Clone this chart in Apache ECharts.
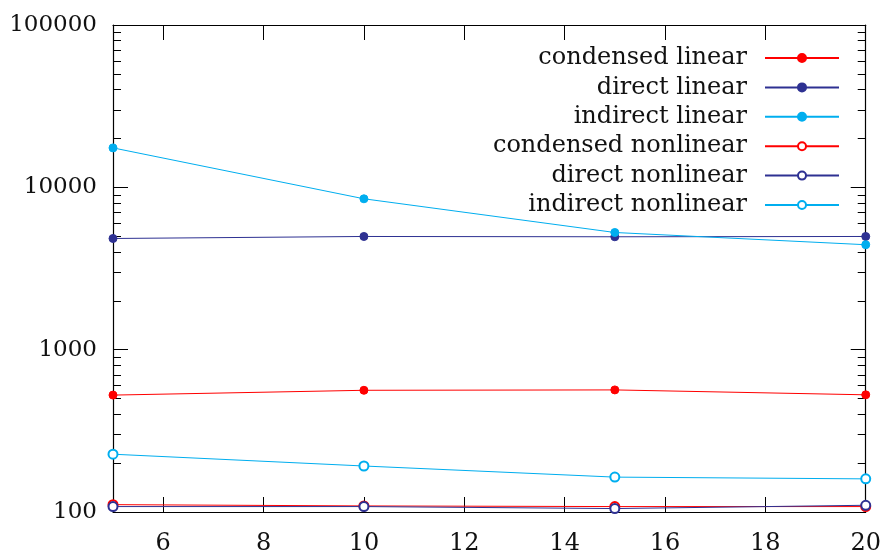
<!DOCTYPE html>
<html>
<head>
<meta charset="utf-8">
<script src="https://cdn.jsdelivr.net/npm/echarts@6/dist/echarts.min.js"></script>
<style>html,body{margin:0;padding:0;background:#fff;}#c{width:884px;height:556px;}</style>
</head>
<body>
<div id="c"></div>
<script>
const xValues = [5, 10, 15, 20];
const condensedLinear = [525, 562, 565, 527];
const directLinear = [4840, 4980, 4960, 4980];
const indirectLinear = [17500, 8500, 5270, 4430];
const condensedNonlinear = [111, 109, 108, 108];
const directNonlinear = [108, 108, 105, 110];
const indirectNonlinear = [227, 192, 164, 160];
const xTicks = [6, 8, 10, 12, 14, 16, 18, 20];
const yMajorTicks = [100, 1000, 10000, 100000];
const seriesNames = ['condensed linear', 'direct linear', 'indirect linear', 'condensed nonlinear', 'direct nonlinear', 'indirect nonlinear'];

const yMinorTicks = [];
[100, 1000, 10000].forEach(d => { for (let k = 2; k <= 9; k++) yMinorTicks.push(d * k); });

const RED = '#ff0000', DARK = '#2e3192', CYAN = '#00aeef';
const FONT = 'DejaVu Serif';

function pairs(arr) { return xValues.map((x, i) => [x, arr[i]]); }
function mk(name, arr, color, filled) {
  return {
    name, type: 'line', data: pairs(arr),
    xAxisIndex: 0, yAxisIndex: 0,
    symbol: filled ? 'circle' : 'emptyCircle',
    symbolSize: filled ? 8 : 9,
    showSymbol: true,
    lineStyle: { color, width: 1 },
    itemStyle: { color, borderColor: color, borderWidth: 1 },
    emphasis: { disabled: true },
    clip: false
  };
}

const chart = echarts.init(document.getElementById('c'), null, { renderer: 'canvas' });
const grid = { left: 113, right: 15, top: 25, bottom: 43 };
const lineStyle = { color: '#000', width: 1.2 };
const noLabel = { show: false };

chart.setOption({
  animation: false,
  backgroundColor: '#fff',
  grid,
  legend: {
    orient: 'vertical', right: 39, top: 41, align: 'right',
    itemWidth: 74, itemHeight: 10, itemGap: 5.4,
    data: seriesNames,
    textStyle: { fontFamily: FONT, fontSize: 24, color: '#111', lineHeight: 24, padding: [0, 13, 0, 0] },
    selectedMode: false
  },
  xAxis: [
    { type: 'value', min: 5, max: 20, position: 'bottom',
      axisLine: { show: true, lineStyle, onZero: false },
      axisTick: { show: true, inside: true, length: 15, customValues: xTicks, lineStyle: { color: '#000', width: 1 } },
      axisLabel: { show: true, customValues: xTicks, fontFamily: FONT, fontSize: 24, color: '#111', margin: 20 },
      splitLine: { show: false } },
    { type: 'value', min: 5, max: 20, position: 'top',
      axisLine: { show: true, lineStyle, onZero: false },
      axisTick: { show: true, inside: true, length: 15, customValues: xTicks, lineStyle: { color: '#000', width: 1 } },
      axisLabel: noLabel, splitLine: { show: false } }
  ],
  yAxis: [
    { type: 'log', logBase: 10, min: 100, max: 100000, position: 'left',
      axisLine: { show: true, lineStyle, onZero: false },
      axisTick: { show: true, inside: true, length: 15, customValues: yMajorTicks, lineStyle: { color: '#000', width: 1 } },
      axisLabel: { show: true, customValues: yMajorTicks, fontFamily: FONT, fontSize: 23, color: '#111', margin: 16, formatter: v => String(Math.round(v)) },
      splitLine: { show: false } },
    { type: 'log', logBase: 10, min: 100, max: 100000, position: 'right',
      axisLine: { show: true, lineStyle, onZero: false },
      axisTick: { show: true, inside: true, length: 15, customValues: yMajorTicks, lineStyle: { color: '#000', width: 1 } },
      axisLabel: noLabel, splitLine: { show: false } },
    { type: 'log', logBase: 10, min: 100, max: 100000, position: 'left',
      axisLine: { show: false },
      axisTick: { show: true, inside: true, length: 8, customValues: yMinorTicks, lineStyle: { color: '#000', width: 1 } },
      axisLabel: noLabel, splitLine: { show: false } },
    { type: 'log', logBase: 10, min: 100, max: 100000, position: 'right',
      axisLine: { show: false },
      axisTick: { show: true, inside: true, length: 8, customValues: yMinorTicks, lineStyle: { color: '#000', width: 1 } },
      axisLabel: noLabel, splitLine: { show: false } }
  ],
  series: [
    mk(seriesNames[0], condensedLinear, RED, true),
    mk(seriesNames[1], directLinear, DARK, true),
    mk(seriesNames[2], indirectLinear, CYAN, true),
    mk(seriesNames[3], condensedNonlinear, RED, false),
    mk(seriesNames[4], directNonlinear, DARK, false),
    mk(seriesNames[5], indirectNonlinear, CYAN, false)
  ]
});
</script>
</body>
</html>
